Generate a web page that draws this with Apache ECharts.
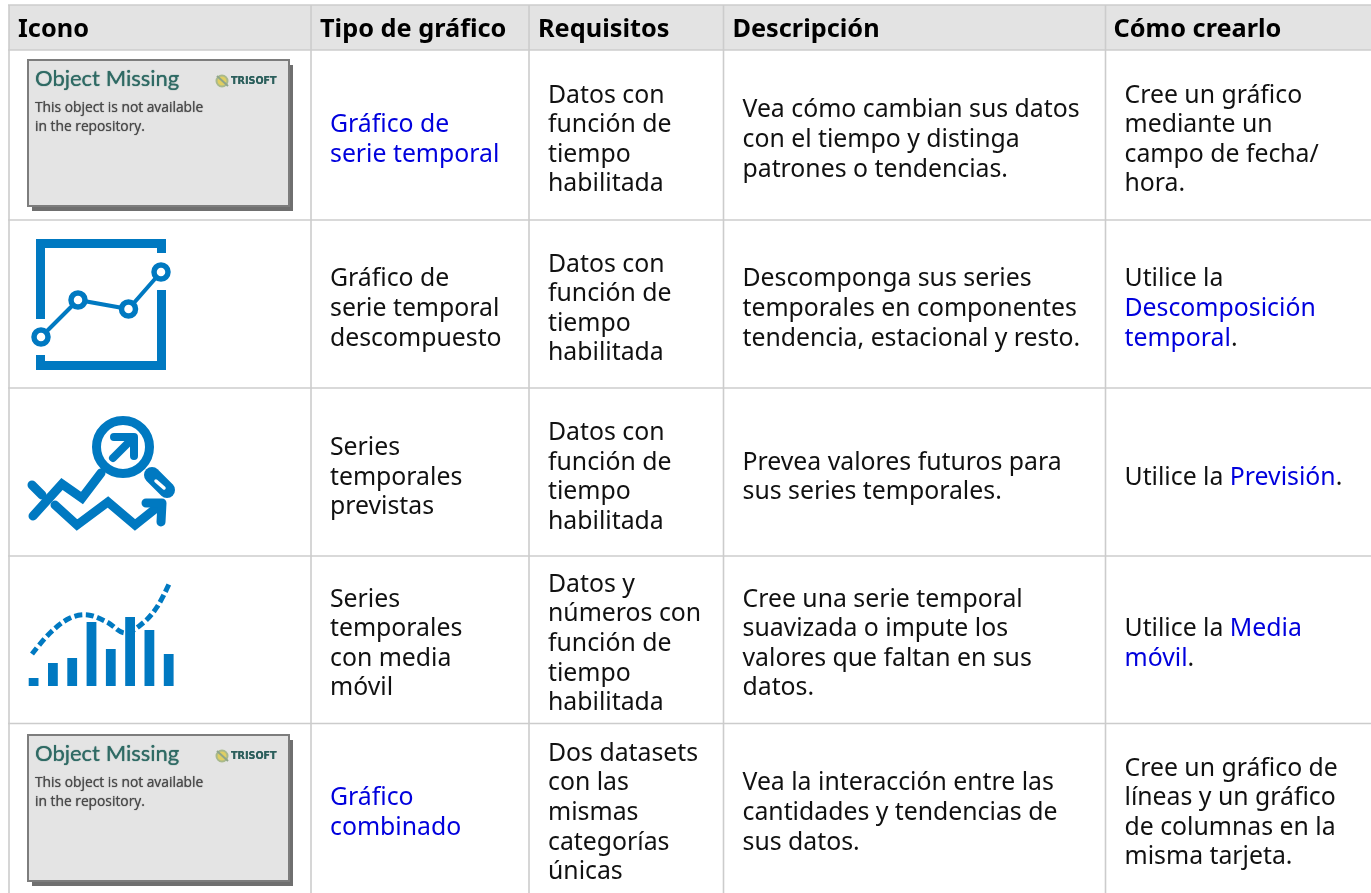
<!DOCTYPE html>
<html><head><meta charset="utf-8"><style>html,body{margin:0;padding:0;background:#fff}#c{width:1371px;height:893px}</style>
<script src="https://cdn.jsdelivr.net/npm/echarts@6/dist/echarts.min.js"></script></head>
<body><div id="c"></div>
<script>
var encabezados = ['Icono','Tipo de gráfico','Requisitos','Descripción','Cómo crearlo'];
var iconos = ['missing','descompuesto','previsto','media','missing'];
var tipos = [['[Gráfico de]','[serie temporal]'],['Gráfico de','serie temporal','descompuesto'],['Series','temporales','previstas'],['Series','temporales','con media','móvil'],['[Gráfico]','[combinado]']];
var requisitos = [['Datos con','función de','tiempo','habilitada'],['Datos con','función de','tiempo','habilitada'],['Datos con','función de','tiempo','habilitada'],['Datos y','números con','función de','tiempo','habilitada'],['Dos datasets','con las','mismas','categorías','únicas']];
var descripciones = [['Vea cómo cambian sus datos','con el tiempo y distinga','patrones o tendencias.'],['Descomponga sus series','temporales en componentes','tendencia, estacional y resto.'],['Prevea valores futuros para','sus series temporales.'],['Cree una serie temporal','suavizada o impute los','valores que faltan en sus','datos.'],['Vea la interacción entre las','cantidades y tendencias de','sus datos.']];
var comoCrearlo = [['Cree un gráfico','mediante un','campo de fecha/','hora.'],['Utilice la','[Descomposición]','[temporal].'],['Utilice la [Previsión].'],['Utilice la [Media]','[móvil].'],['Cree un gráfico de','líneas y un gráfico','de columnas en la','misma tarjeta.']];
var barrasIcono = [8,23,28,64,37,69,56,32];
var FONT = '"Noto Sans"';
var colEdges = [9,311,529,723.5,1105.5,1380];
var rowEdges = [5,50,220,388,556,723.5,900];
var bodyCenters = [140,309,477.5,644,813];
var BLUE = '#0079c1', LINE = '#cccccc';
var bodyCols = [null,tipos,requisitos,descripciones,comoCrearlo];

function toRich(s){
  return s.split(/(\[[^\]]*\])/).filter(Boolean).map(function(p){
    return p.charAt(0)==='[' ? '{l|'+p.slice(1,-1)+'}' : '{n|'+p+'}';
  }).join('');
}
function pt(api,x,y){return api.coord([x,y]);}
function line(api,pts,w,color,extra){
  return {type:'polyline',shape:Object.assign({points:pts.map(function(p){return pt(api,p[0],p[1]);})},extra&&extra.shape||{}),
    style:Object.assign({stroke:color,lineWidth:w,fill:null},extra&&extra.style||{})};
}
function circle(api,x,y,r,fill,stroke,w){var c=pt(api,x,y);return {type:'circle',shape:{cx:c[0],cy:c[1],r:r},style:{fill:fill,stroke:stroke,lineWidth:w}};}
function box(api,x0,y0,x1,y1,fill,stroke,w){var a=pt(api,x0,y0),b=pt(api,x1,y1);return {type:'rect',shape:{x:a[0],y:a[1],width:b[0]-a[0],height:b[1]-a[1]},style:{fill:fill,stroke:stroke||null,lineWidth:w||0}};}
function txt(api,x,y,s,size,color,font,weight,blur){var c=pt(api,x,y);return {type:'text',x:c[0],y:c[1],style:{text:s,fontSize:size,fontFamily:font||FONT,fontWeight:weight||'normal',fill:color,verticalAlign:'middle',align:'left',textShadowColor:color,textShadowBlur:blur||0}};}

function tableGrid(api){
  var kids=[box(api,colEdges[0],rowEdges[0],colEdges[5],rowEdges[1],'#e3e3e3')];
  rowEdges.slice(0,6).forEach(function(y){kids.push(line(api,[[colEdges[0]-1,y],[colEdges[5],y]],1.6,LINE));});
  colEdges.slice(0,5).forEach(function(x){kids.push(line(api,[[x,rowEdges[0]],[x,893]],1.6,LINE));});
  return {type:'group',children:kids};
}
function iconMissing(api,dy){
  return [
    box(api,32,65+dy,293,211+dy,'#6f6f6f'),
    box(api,28,60+dy,289,206+dy,'#e4e4e4','#7d7d7d',2),
    txt(api,35,79+dy,'Object Missing',22,'#2f6a64','Lato','normal',1),
    txt(api,35,108+dy,'This object is not available',13.8,'#4a4a4a','"Open Sans"','normal',1),
    txt(api,35,127+dy,'in the repository.',13.8,'#4a4a4a','"Open Sans"','normal',1),
    circle(api,222,81+dy,5.5,'#e0cf62','#a9b98c',2),
    line(api,[[217,76+dy],[228,86+dy]],2,'#8fa58a'),
    txt(api,231,81+dy,'TRISOFT',9.6,'#2c5f5c','"DejaVu Sans"','bold',0.6)
  ];
}
function iconDescompuesto(api){
  var pts=[[41,337],[78,300],[128.5,309],[161,272]];
  return [
    line(api,[[161.5,253],[161.5,243.5],[40.5,243.5],[40.5,319]],9,BLUE),
    line(api,[[40.5,355],[40.5,365.5],[161.5,365.5],[161.5,290]],9,BLUE),
    line(api,pts,4,BLUE)
  ].concat(pts.map(function(p){return circle(api,p[0],p[1],7,'#fff',BLUE,5.5);}));
}
function iconPrevisto(api){
  var round={style:{lineCap:'round',lineJoin:'miter'}};
  return [
    circle(api,123,447,26.5,'#fff',BLUE,9),
    line(api,[[113,458],[132,439]],8,BLUE,{style:{lineCap:'round'}}),
    line(api,[[114,437],[134,437],[134,456]],8,BLUE,{style:{lineCap:'round',lineJoin:'round'}}),
    line(api,[[152,475],[167,490]],16,BLUE,{style:{lineCap:'round'}}),
    line(api,[[156,481],[164,488]],3.5,'#fff',{style:{lineCap:'round'}}),
    line(api,[[33,516],[62,484],[82,498],[101,473]],9,BLUE,round),
    line(api,[[32,485],[42,495]],9,BLUE,round),
    line(api,[[55,505],[77,525],[108,502],[135,525],[160,505]],9,BLUE,round),
    line(api,[[146,503],[162,503],[161,522]],9,BLUE,{style:{lineCap:'round',lineJoin:'round'}})
  ];
}
function iconMedia(api){
  var kids=barrasIcono.map(function(h,i){var x=28.7+i*19.3;return box(api,x,686-h,x+9.8,686,BLUE);});
  kids.push(line(api,[[32,654],[50,633],[70,618],[88,615],[107,622],[125,633],[143,623],[157,607],[170,582]],5,BLUE,{shape:{smooth:0.35},style:{lineDash:[8,3.5]}}));
  return kids;
}
function renderIcon(params,api){
  var i=api.value(0),k=iconos[i],kids;
  if(k==='missing')kids=iconMissing(api,i===0?0:675);
  else if(k==='descompuesto')kids=iconDescompuesto(api);
  else if(k==='previsto')kids=iconPrevisto(api);
  else kids=iconMedia(api);
  return {type:'group',children:kids};
}
var LH=29.6;
function renderCell(params,api){
  var r=api.value(0),c=api.value(1);
  var lines=bodyCols[c][r],kids=[];
  lines.forEach(function(s,i){
    var p=pt(api,colEdges[c]+19,bodyCenters[r]+(i-(lines.length-1)/2)*LH);
    kids.push({type:'text',x:p[0],y:p[1],style:{text:toRich(s),verticalAlign:'middle',align:'left',rich:{
      n:{fontFamily:FONT,fontSize:24.8,fill:'#111',color:'#111',lineHeight:30},
      l:{fontFamily:FONT,fontSize:24.8,fill:'#0000dd',color:'#0000dd',lineHeight:30}}}});
  });
  return {type:'group',children:kids};
}
function renderHeader(params,api){
  var c=api.value(0);
  return txt(api,colEdges[c]+(c===4?8:9),29.5,encabezados[c],25.3,'#000',FONT,'bold');
}
var cellData=[];
for(var r=0;r<5;r++)for(var c=1;c<5;c++)cellData.push([r,c]);
var chart=echarts.init(document.getElementById('c'),null,{renderer:'canvas'});
chart.setOption({
  animation:false,
  grid:{left:0,right:0,top:0,bottom:0},
  xAxis:{type:'value',min:0,max:1371,show:false},
  yAxis:{type:'value',min:0,max:893,inverse:true,show:false},
  series:[
    {type:'custom',silent:true,clip:true,data:[[0]],renderItem:function(p,a){return tableGrid(a);},encode:{x:0}},
    {type:'custom',silent:true,clip:true,data:encabezados.map(function(_,i){return [i];}),renderItem:renderHeader,encode:{x:0}},
    {type:'custom',silent:true,clip:true,data:iconos.map(function(_,i){return [i];}),renderItem:renderIcon,encode:{x:0}},
    {type:'custom',silent:true,clip:true,data:cellData,renderItem:renderCell,encode:{x:0}}
  ]
});
</script></body></html>
